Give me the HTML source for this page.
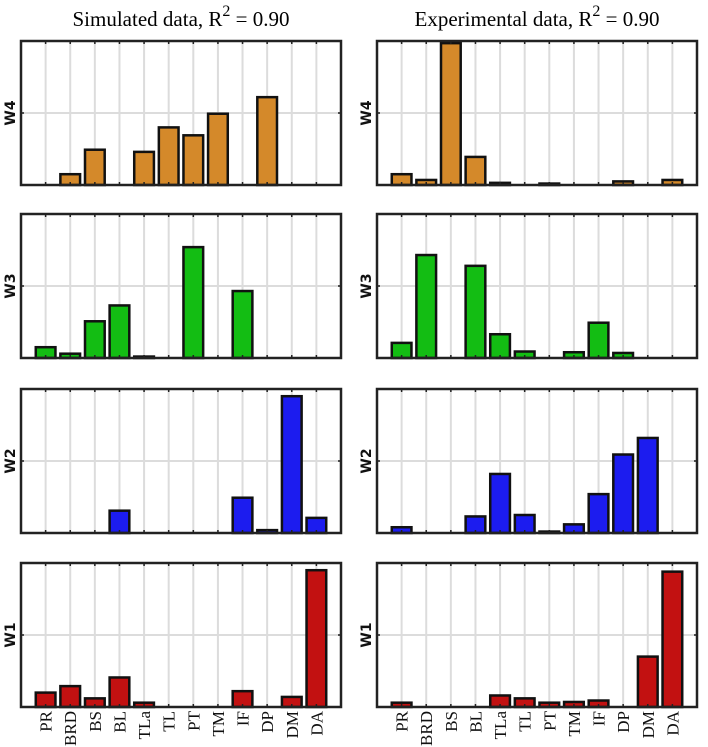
<!DOCTYPE html>
<html><head><meta charset="utf-8">
<style>
body{margin:0;background:#fff;}
svg{display:block;}
</style></head>
<body>
<svg id="chart" width="708" height="747" xmlns="http://www.w3.org/2000/svg">
<text x="181" y="26" font-family="Liberation Serif, serif" font-size="21" text-anchor="middle">Simulated data, R<tspan dy="-10" font-size="16">2</tspan><tspan dy="10"> = 0.90</tspan></text>
<text x="537" y="26" font-family="Liberation Serif, serif" font-size="21" text-anchor="middle">Experimental data, R<tspan dy="-10" font-size="16">2</tspan><tspan dy="10"> = 0.90</tspan></text>
</svg>
<script>
const categories = ["PR","BRD","BS","BL","TLa","TL","PT","TM","IF","DP","DM","DA"];
const rowLabels = ["W4","W3","W2","W1"];
const rowColors = ["#d4892a","#13bd13","#1c1cef","#c21111"];
const simW4 = [0,0.15,0.49,0,0.46,0.80,0.69,0.99,0,1.22,0,0];
const simW3 = [0.15,0.06,0.51,0.73,0.02,0,1.54,0,0.93,0,0,0];
const simW2 = [0,0,0,0.31,0,0,0,0,0.49,0.04,1.90,0.21];
const simW1 = [0.20,0.29,0.12,0.41,0.06,0,0,0,0.22,0,0.14,1.90];
const expW4 = [0.15,0.07,1.97,0.39,0.03,0,0.02,0,0,0.05,0,0.07];
const expW3 = [0.21,1.43,0,1.28,0.33,0.09,0,0.08,0.49,0.07,0,0];
const expW2 = [0.08,0,0,0.23,0.82,0.25,0.02,0.12,0.54,1.09,1.32,0];
const expW1 = [0.06,0,0,0,0.16,0.12,0.06,0.07,0.09,0,0.70,1.88];
const yMax = 2, yTick = 1;

const NS = "http://www.w3.org/2000/svg";
const svg = document.getElementById("chart");
function mk(tag, attrs, parent){const e=document.createElementNS(NS,tag);for(const k in attrs)e.setAttribute(k,attrs[k]);(parent||svg).appendChild(e);return e;}

const cols = [{x:21, series:[simW4,simW3,simW2,simW1], key:"sim"},{x:377, series:[expW4,expW3,expW2,expW1], key:"exp"}];
const rowTops = [41,214,389,563];
const W = 320, H = 144;

cols.forEach(col=>{
  rowTops.forEach((top,r)=>{
    const vals = col.series[r];
    const g = mk("g",{});
    
    
    const xs = i => col.x + (i+1)*W/(categories.length+1);
    const ys = v => top + H - v/yMax*H;
    const bw = 0.8*W/(categories.length+1);
    categories.forEach((c,i)=>{
      const l = mk("line",{x1:xs(i),x2:xs(i),y1:top,y2:top+H,stroke:"#dcdcdc","stroke-width":2},g);
      
      
    });
    const hg = mk("line",{x1:col.x,x2:col.x+W,y1:ys(yTick),y2:ys(yTick),stroke:"#dcdcdc","stroke-width":2},g);
    
    
    vals.forEach((v,i)=>{
      if(v<=0) return;
      const b = mk("rect",{x:xs(i)-bw/2,y:ys(v),width:bw,height:ys(0)-ys(v),fill:rowColors[r],stroke:"#111","stroke-width":2.5},g);
      
      
    });
    categories.forEach((c,i)=>{
      mk("line",{x1:xs(i),x2:xs(i),y1:top,y2:top+3,stroke:"#222","stroke-width":1.5},g);
      mk("line",{x1:xs(i),x2:xs(i),y1:top+H,y2:top+H-3,stroke:"#222","stroke-width":1.5},g);
    });
    mk("line",{x1:col.x,x2:col.x+3,y1:ys(yTick),y2:ys(yTick),stroke:"#222","stroke-width":1.5},g);
    mk("line",{x1:col.x+W,x2:col.x+W-3,y1:ys(yTick),y2:ys(yTick),stroke:"#222","stroke-width":1.5},g);
    const f = mk("rect",{x:col.x,y:top,width:W,height:H,fill:"none",stroke:"#222","stroke-width":2.5},g);
    
    
    const yl = mk("text",{x:0,y:0,transform:`translate(${col.x-6},${ys(yTick)}) rotate(-90)`,"text-anchor":"middle","font-family":"DejaVu Sans, sans-serif","font-size":14,"font-weight":"bold",fill:"#111"},g);
    yl.textContent = rowLabels[r];
    
    
    if(r===3){
      categories.forEach((c,i)=>{
        const t = mk("text",{x:0,y:0,transform:`translate(${xs(i)+6},${top+H+4}) rotate(-90)`,"text-anchor":"end","font-family":"Liberation Serif, serif","font-size":17,fill:"#111"},g);
        t.textContent = c;
        
        
      });
    }
  });
});
</script>
</body></html>
